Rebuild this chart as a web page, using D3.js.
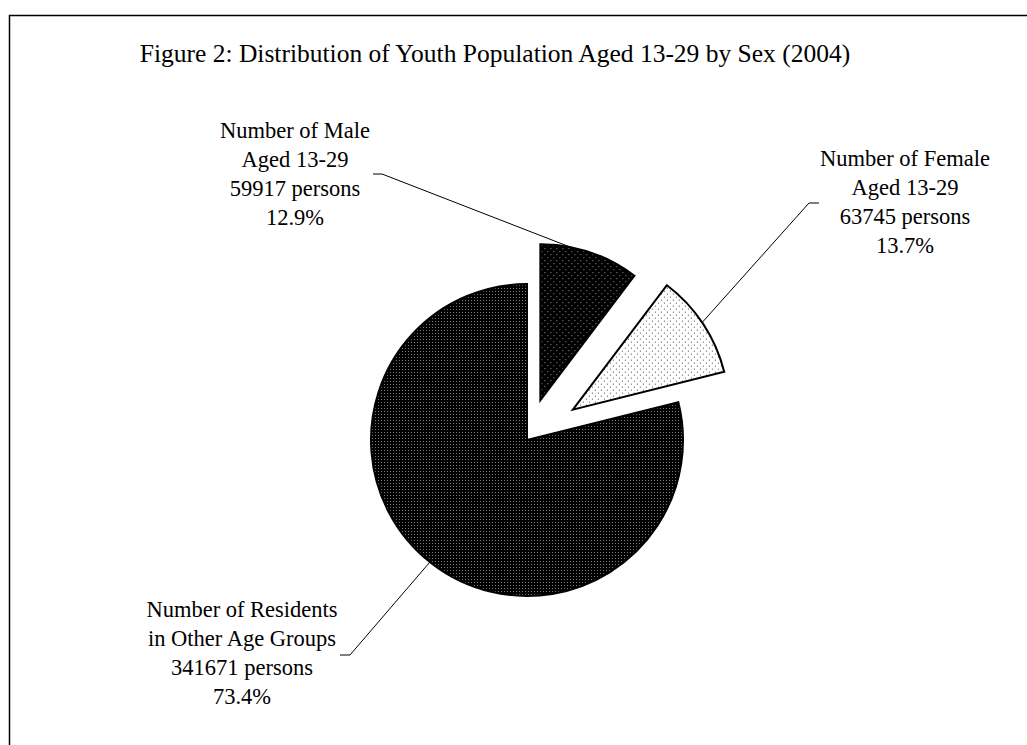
<!DOCTYPE html>
<html>
<head>
<meta charset="utf-8">
<script src="https://cdn.jsdelivr.net/npm/d3@7/dist/d3.min.js"></script>
<style>
  body { margin: 0; background: #fff; }
  svg text { font-family: "Liberation Serif", "Times New Roman", serif; fill: #000; }
</style>
</head>
<body>
<svg id="chart"></svg>
<script>
// data
var title = "Figure 2: Distribution of Youth Population Aged 13-29 by Sex (2004)";
var categories = ["Male", "Female", "Other"];
var labelNames = [
  ["Number of Male", "Aged 13-29"],
  ["Number of Female", "Aged 13-29"],
  ["Number of Residents", "in Other Age Groups"]
];
var persons = [59917, 63745, 341671];
// slice sizes (percent of circle) as drawn in the figure
var drawnShares = [10.3, 10.8, 78.9];

var width = 1027, height = 745;

var svg = d3.select("#chart")
  .attr("width", width)
  .attr("height", height);

// fill patterns
var defs = svg.append("defs");

function dotPattern(id, size, bg, dot, dots) {
  var p = defs.append("pattern")
    .attr("id", id)
    .attr("patternUnits", "userSpaceOnUse")
    .attr("width", size)
    .attr("height", size);
  p.append("rect").attr("width", size).attr("height", size).attr("fill", bg);
  dots.forEach(function(d) {
    p.append("rect").attr("x", d[0]).attr("y", d[1])
      .attr("width", 1).attr("height", 1).attr("fill", dot);
  });
}
dotPattern("pat-male", 6, "#000", "#9a9a9a", [[1, 1], [4, 4]]);
dotPattern("pat-female", 6, "#fff", "#444", [[1, 1], [4, 4]]);
dotPattern("pat-other", 3, "#000", "#7a7a7a", [[1, 1]]);
var fills = ["url(#pat-male)", "url(#pat-female)", "url(#pat-other)"];

// frame
svg.append("rect")
  .attr("x", 9.5).attr("y", 15.5)
  .attr("width", 1100).attr("height", 800)
  .attr("fill", "none")
  .attr("stroke", "#000")
  .attr("stroke-width", 1.5);

svg.append("text")
  .attr("x", 495).attr("y", 62)
  .attr("text-anchor", "middle")
  .style("font-size", "25.5px")
  .text(title);

var cx = 527, cy = 440, radius = 156;
var explode = [42, 55, 0];

var pie = d3.pie().sort(null).value(function(d) { return d; });
var arcs = pie(drawnShares);
var arc = d3.arc().innerRadius(0).outerRadius(radius);

var total = d3.sum(persons);
var pct = d3.format(".1%");

function offset(d, i) {
  var a = (d.startAngle + d.endAngle) / 2;
  return [cx + explode[i] * Math.sin(a), cy - explode[i] * Math.cos(a)];
}

var g = svg.append("g");
g.selectAll("path")
  .data(arcs)
  .enter().append("path")
    .attr("transform", function(d, i) { var o = offset(d, i); return "translate(" + o[0] + "," + o[1] + ")"; })
    .attr("d", arc)
    .attr("fill", function(d, i) { return fills[i]; })
    .attr("stroke", "#000")
    .attr("stroke-width", 2)
    .attr("stroke-linejoin", "miter");

// labels and leader lines
var labelPos = [
  { x: 295, y: 137.5, elbow: [373, 382, 174], angle: 11 },
  { x: 905, y: 166, elbow: [819, 809, 203], angle: 56 },
  { x: 242, y: 617, elbow: [340, 350, 655], angle: 218.5 }
];

arcs.forEach(function(d, i) {
  var lp = labelPos[i];
  var o = offset(d, i);
  var a = lp.angle * Math.PI / 180;
  var ex = o[0] + radius * Math.sin(a), ey = o[1] - radius * Math.cos(a);
  svg.append("path")
    .attr("d", "M" + lp.elbow[0] + "," + lp.elbow[2] + "H" + lp.elbow[1] + "L" + ex + "," + ey)
    .attr("fill", "none")
    .attr("stroke", "#000")
    .attr("stroke-width", 1);

  var lines = labelNames[i].concat([persons[i] + " persons", pct(persons[i] / total)]);
  var t = svg.append("text")
    .attr("text-anchor", "middle")
    .style("font-size", "22.5px");
  lines.forEach(function(s, k) {
    t.append("tspan")
      .attr("x", lp.x)
      .attr("y", lp.y + k * 29)
      .text(s);
  });
});
</script>
</body>
</html>
